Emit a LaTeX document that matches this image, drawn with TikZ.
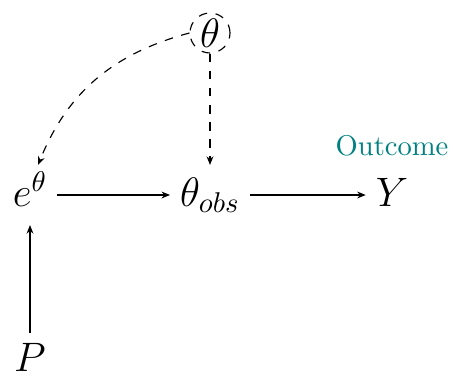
\documentclass[tikz,border=0pt]{standalone}
\usetikzlibrary{arrows.meta}
\begin{document}
\begin{tikzpicture}[x=0.35pt,y=0.35pt,
  var/.style={font=\Large, text height=11pt, text depth=3pt, inner sep=3.33pt},
  latent/.style={circle, draw, dashed, font=\Large, inner sep=0pt, minimum size=14pt},
  arr/.style={-{Stealth[length=3pt,width=2.4pt]}},
  lbl/.style={text=teal}]
\useasboundingbox (0,0) rectangle (453,379);
\node[latent] (th) at (210,346) {$\theta$};
\node[var] (e) at (30,184) {$e^{\theta}$};
\node[var] (obs) at (210,184) {$\theta_{obs}$};
\node[var] (y) at (392,184) {$Y$};
\node[font=\Large, inner sep=3.33pt] (p) at (30,22) {$P$};
\node[lbl] (out) at (392,233) {Outcome};
\draw[arr] (e) -- (obs);
\draw[arr] (obs) -- (y);
\draw[arr] (p) -- (e);
\draw[arr, dashed] (th) -- (obs);
\draw[arr, dashed] (th.west) to[out=195, in=68] (e.75);
\end{tikzpicture}
\end{document}
